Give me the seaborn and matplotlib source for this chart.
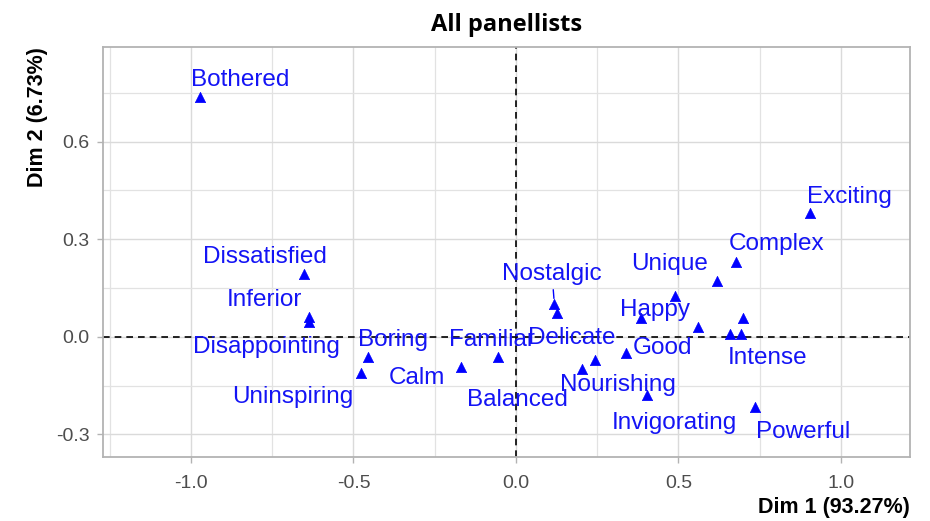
import matplotlib
matplotlib.use("Agg")
import matplotlib.pyplot as plt
import numpy as np
import pandas as pd
import seaborn as sns

# Attribute coordinates on the first two dimensions (blank name = label not shown)
attributes = ["Bothered", "Dissatisfied", "Inferior", "Disappointing", "Boring",
              "Uninspiring", "Calm", "Familiar", "Nostalgic", "Delicate",
              "Nourishing", "Balanced", "Good", "Happy", "Unique", "",
              "Complex", "Exciting", "", "", "", "Intense", "Invigorating",
              "Powerful"]
dim1 = [-0.971, -0.651, -0.638, -0.636, -0.455, -0.476, -0.169, -0.055, 0.118,
        0.127, 0.202, 0.243, 0.338, 0.386, 0.488, 0.620, 0.678, 0.906, 0.560,
        0.698, 0.657, 0.693, 0.402, 0.734]
dim2 = [0.738, 0.193, 0.060, 0.045, -0.062, -0.112, -0.093, -0.062, 0.101,
        0.074, -0.100, -0.070, -0.051, 0.057, 0.125, 0.172, 0.231, 0.381, 0.029,
        0.057, 0.010, 0.010, -0.179, -0.215]

title = "All panellists"
xlabel = "Dim 1 (93.27%)"
ylabel = "Dim 2 (6.73%)"
xticks = [-1.0, -0.5, 0.0, 0.5, 1.0]
yticks = [-0.3, 0.0, 0.3, 0.6]

# Repelled label placement (text centres, in data units)
label_pos = {
    "Bothered": (-0.848, 0.790), "Dissatisfied": (-0.771, 0.245),
    "Inferior": (-0.774, 0.113), "Disappointing": (-0.768, -0.031),
    "Boring": (-0.378, -0.010), "Uninspiring": (-0.688, -0.185),
    "Calm": (-0.304, -0.127), "Familiar": (-0.075, -0.010),
    "Balanced": (0.003, -0.195), "Nostalgic": (0.111, 0.193),
    "Delicate": (0.172, -0.004), "Nourishing": (0.315, -0.149),
    "Good": (0.452, -0.036), "Happy": (0.427, 0.082),
    "Unique": (0.473, 0.224), "Complex": (0.802, 0.285),
    "Exciting": (1.026, 0.431), "Intense": (0.774, -0.066),
    "Invigorating": (0.488, -0.266), "Powerful": (0.883, -0.292),
}
with_segment = {"Nostalgic"}

df = pd.DataFrame({"attribute": attributes, "Dim1": dim1, "Dim2": dim2})

sns.set_theme(style="white")
plt.rcParams["font.family"] = ["Liberation Sans", "DejaVu Sans"]

fig = plt.figure(figsize=(9.3, 5.21), dpi=100)
ax = fig.add_axes([0.1104, 0.1234, 0.8681, 0.7858])

ax.set_xlim(-1.2717, 1.2123)
ax.set_ylim(-0.369, 0.8905)

# grid: major + minor
ax.set_xticks(xticks)
ax.set_yticks(yticks)
ax.set_xticks([-1.25, -0.75, -0.25, 0.25, 0.75], minor=True)
ax.set_yticks([-0.15, 0.15, 0.45, 0.75], minor=True)
ax.grid(True, which="major", color="#DADADA", linewidth=1.0, zorder=0)
ax.grid(True, which="minor", color="#E2E2E2", linewidth=0.9, zorder=0)
ax.set_axisbelow(True)

ax.axhline(0, color="black", linestyle=(0, (4, 3)), linewidth=1.2, zorder=1)
ax.axvline(0, color="black", linestyle=(0, (4, 3)), linewidth=1.2, zorder=1)

sns.scatterplot(data=df, x="Dim1", y="Dim2", marker="^", s=55, color="blue",
                edgecolor="blue", linewidth=0.5, ax=ax, zorder=3, legend=False)

for name, px, py in zip(attributes, dim1, dim2):
    if not name:
        continue
    tx, ty = label_pos[name]
    arrow = None
    if name in with_segment:
        arrow = dict(arrowstyle="-", color="blue", lw=1.0, shrinkA=1, shrinkB=4)
    ax.annotate(name, xy=(px, py), xytext=(tx, ty), ha="center", va="center",
                fontsize=17.5, color="#1414F5", arrowprops=arrow, zorder=4)

for side in ax.spines.values():
    side.set_color("#B3B3B3")
    side.set_linewidth(1.3)

ax.tick_params(axis="both", which="major", length=4.5, width=1.0,
               color="#B3B3B3", labelsize=14, labelcolor="#4D4D4D",
               bottom=True, left=True)
ax.tick_params(axis="x", which="major", pad=9)
ax.tick_params(axis="y", which="major", pad=5)
ax.tick_params(axis="both", which="minor", length=0)
ax.set_xticklabels([f"{v:.1f}" for v in xticks])
ax.set_yticklabels([f"{v:.1f}" for v in yticks])

ax.set_xlabel(xlabel, loc="right", fontsize=15.5, fontweight="bold",
              color="black", labelpad=3)
ax.set_ylabel(ylabel, loc="top", fontsize=15.5, fontweight="bold",
              color="black", labelpad=6)
ax.set_title(title, fontsize=17, fontweight="bold", color="black",
             family=["Open Sans", "DejaVu Sans"], pad=12)

fig.savefig("out.png", dpi=100, facecolor="white")
